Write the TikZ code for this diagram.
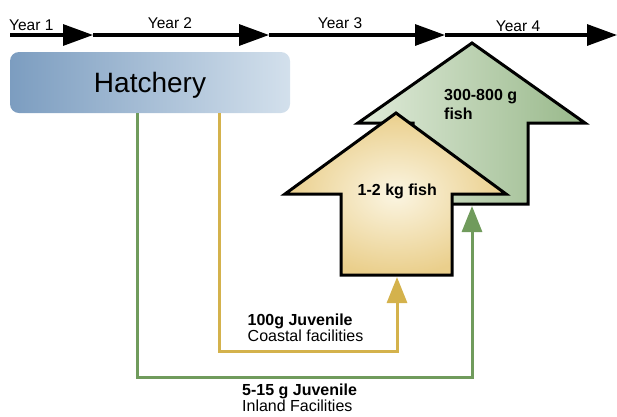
\documentclass[tikz,border=0pt]{standalone}
\usepackage{fontspec}
\setmainfont{Liberation Sans}
\usetikzlibrary{arrows.meta}
\definecolor{hatchL}{RGB}{124,157,192}
\definecolor{hatchR}{RGB}{211,224,236}
\definecolor{grnL}{RGB}{224,235,218}
\definecolor{grnR}{RGB}{152,184,138}
\definecolor{ylwIn}{RGB}{251,245,226}
\definecolor{ylwOut}{RGB}{234,207,140}
\definecolor{ylwLine}{RGB}{212,178,76}
\definecolor{grnLine}{RGB}{112,155,92}
\tikzset{
  timeline/.style={line width=3.2pt,-{Triangle[length=30pt,width=21pt]}},
  yearlbl/.style={font=\fontsize{15.5}{16}\selectfont,inner sep=0pt,anchor=base},
  bigarrow/.style={draw=black,line width=3pt,line join=miter},
  conn/.style={line width=3pt,-{Triangle[length=26pt,width=20pt]}},
  lbl/.style={font=\fontsize{16}{16}\selectfont,inner sep=0pt,anchor=base west,align=left},
}
\begin{document}
\begin{tikzpicture}[x=1pt,y=-1pt]
\useasboundingbox (0,0) rectangle (617,416);
% timeline
\coordinate (t0) at (10,35);
\coordinate (t1) at (93,35);
\coordinate (t2) at (269,35);
\coordinate (t3) at (445,35);
\coordinate (t4) at (617,35);
\draw[timeline] (t0) -- (t1);
\draw[timeline] (t1) -- (t2);
\draw[timeline] (t2) -- (t3);
\draw[timeline] (t3) -- (t4);
\node[yearlbl,anchor=base west] (y1) at (9,30) {Year 1};
\node[yearlbl] (y2) at (170,28.5) {Year 2};
\node[yearlbl] (y3) at (340,28.5) {Year 3};
\node[yearlbl] (y4) at (518,31) {Year 4};
% hatchery
\node[rounded corners=9pt,left color=hatchL,right color=hatchR,
      minimum width=280pt,minimum height=61pt,inner sep=0pt,
      text height=20pt,text depth=0pt,
      font=\fontsize{28}{28}\selectfont] (hatch) at (150,82.5) {Hatchery};
% big arrows
\path[bigarrow,left color=grnL,right color=grnR]
  (472,43) -- (585,123) -- (528,123) -- (528,204) -- (413,204) -- (413,123) -- (358,123) -- cycle;
\path[bigarrow,inner color=ylwIn,outer color=ylwOut]
  (396,113) -- (506,194) -- (452,194) -- (452,275) -- (341,275) -- (341,194) -- (285,194) -- cycle;
\node[lbl,font=\fontsize{16}{18.5}\selectfont\bfseries] (g300) at (444,119.3) {300-800 g\\fish};
\node[lbl,font=\fontsize{16}{16}\selectfont\bfseries] (y12) at (357.5,195.5) {1-2 kg fish};
% connectors
\coordinate (gx) at (137,0);
\coordinate (yx) at (219,0);
\coordinate (gb) at (472,206);
\coordinate (yb) at (397,277);
\coordinate (gy) at (0,377);
\coordinate (yy) at (0,351);
\draw[conn,grnLine] (hatch.south -| gx) -- (gx |- gy) -- (gb |- gy) -- (gb);
\draw[conn,ylwLine] (hatch.south -| yx) -- (yx |- yy) -- (yb |- yy) -- (yb);
\node[lbl] (coast) at (247.5,341.5) {\textbf{100g Juvenile}\\Coastal facilities};
\node[lbl] (inland) at (242,411) {\textbf{5-15 g Juvenile}\\Inland Facilities};
\end{tikzpicture}
\end{document}
